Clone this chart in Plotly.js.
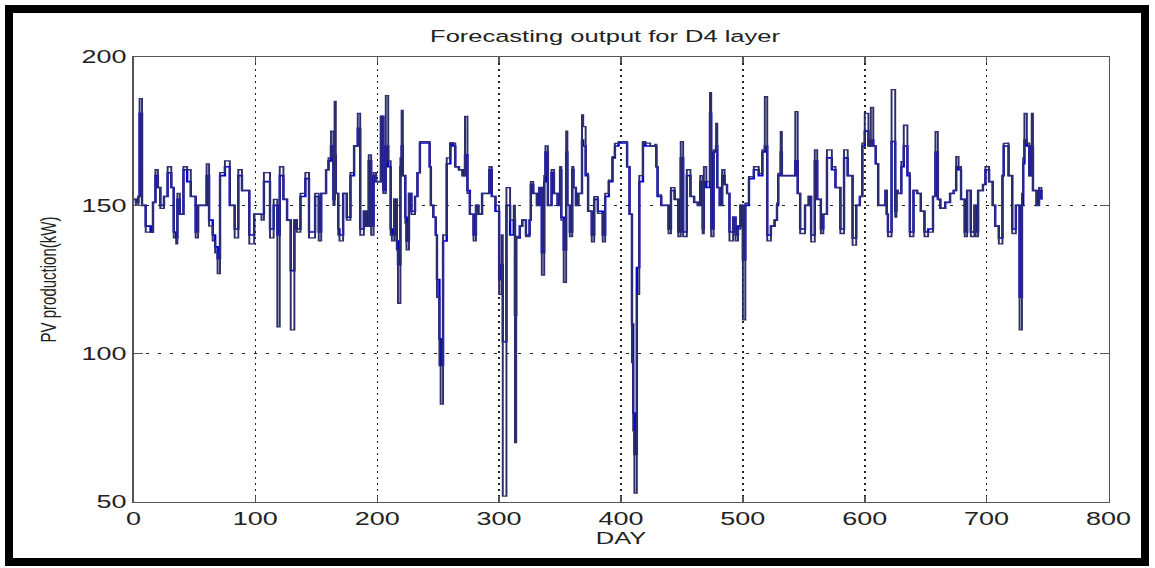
<!DOCTYPE html>
<html><head><meta charset="utf-8">
<script src="https://cdn.plot.ly/plotly-3.0.1.min.js"></script>
<style>
html,body{margin:0;padding:0;background:#fff;overflow:hidden;}
#chart{position:absolute;left:0;top:0;width:770px;height:568px;transform:scale(1.5,1);transform-origin:0 0;}
#frame{position:absolute;left:5px;top:5px;width:1128px;height:545px;border:8px solid #000;pointer-events:none;}
</style></head>
<body>
<div id="chart"></div>
<div id="frame"></div>
<script>
const days = [
0,2,4,5,7,10,14,16,18,20,
22,25,28,31,33,35,36,38,41,44,
47,51,53,57,60,62,65,67,69,71,
75,79,83,86,89,95,99,105,107,112,
115,118,120,123,126,129,132,134,137,141,
144,149,152,154,158,160,162,164,165,166,
168,169,172,175,178,181,184,186,189,191,
193,195,197,199,203,205,207,209,211,212,
214,216,217,219,220,221,223,224,226,228,
231,233,235,241,243,244,246,248,249,251,
252,254,257,260,262,264,267,270,272,274,
276,279,281,283,286,289,292,294,297,300,
302,303,306,309,312,313,314,317,319,322,
325,326,328,331,333,335,337,338,340,343,
345,348,350,351,353,355,356,358,360,361,
363,365,368,369,371,373,376,378,381,385,
387,390,393,395,398,403,405,407,409,410,
411,413,415,418,420,424,428,429,430,433,
439,441,444,447,449,451,454,457,460,463,
465,467,468,470,473,474,476,478,479,481,
483,485,487,489,492,494,496,498,500,502,
505,509,513,516,518,520,523,526,528,529,
531,532,541,543,545,547,551,554,556,559,
561,564,566,569,573,576,580,583,586,590,
593,596,598,600,603,605,607,609,611,613,
617,618,619,622,625,626,627,630,632,635,
637,640,643,646,649,652,656,658,660,662,
666,670,673,675,677,679,682,684,687,690,
691,693,697,699,702,705,707,710,713,714,
717,718,721,724,727,729,730,731,733,735,
737,738,741,743,745];

const actual = [
152,150,153,186,150,141,141,151,162,156,
149,153,163,156,139,137,154,147,163,162,
153,139,150,150,164,143,138,134,127,161,
165,150,139,162,155,137,147,145,161,139,
152,109,163,152,145,108,145,141,154,161,
139,154,138,154,162,166,175,150,185,154,
140,138,154,145,161,170,181,140,148,143,
167,140,161,158,180,154,187,165,140,138,
152,135,117,166,182,160,144,135,154,147,
153,161,171.5,171.5,163,150,146,140,119,96,
83,140,166,171,171,163,162,160,180,154,
147,138,150,147,154,154,163,153,150,120,
140,52,156,145,150,70,139.5,143,145,139.5,
145,158,154,150,156,126.5,160,170,150,162,
154,150,163,145,124,175,150,139.5,163,156,
150,154,180.5,176.5,160.8,148,137.7,152.9,147.3,137.7,
154,158.5,166.4,170.9,171.5,171.5,163,147,97,74,
53,120,160,171.5,171,170,170.5,163,153.5,150,
140.5,156,152,139.5,171.5,139.5,162,153,151,150,
160,140.5,163,158,188,139.5,168.7,177.6,156,150,
162,157,154,138,146,138,142,150,111.4,150.7,
159.7,163,160.8,168.7,186.6,138,143,145,150.7,160.8,
174.8,160,160,181.6,154,140.5,150,153,137.7,168.7,
152,140.5,147,168.7,163,156,140.5,168.7,160,136.6,
150,153,171,181,170,183,170,164,150,150,
155,147,139.5,189,146,155,154,164.7,177,161,
139.5,155,154,148,139.5,141,153,174.8,152,149,
151,154,155,166.4,163,152,139.5,155,139.5,150,
139.5,155,157,163,158,150,143,137,160,170.9,
171,160,140.5,150,108,154,166,181,171,160,
181,155,150,156,152];

const forecast = [
152,151,153,181,150,143,141,151,160,156,
150,153,161,156,141,139,152,147,162,158,
153,141,150,150,160,145,140,136,132,160,
163,150,142,160,155,140,147,147,158,142,
150,140,160,152,145,128,145,142,153,159,
141,153,141,154,162,165,170,152,167,154,
142,140,154,146,160,170,176,142,148,143,
165,143,160,158,180,155,170,163,142,140,
152,138,130,163,170,160,146,138,154,148,
153,161,171,171,163,150,146,140,125,105,
96,138,164,171,170,163,162,160,167,155,
147,140,150,147,154,154,162,153,148,125,
130,104,150,140,145,113,139,143,145,140,
145,157,154,150,156,134,158,168,150,161,
154,150,162,146,135,168,150,141,162,156,
150,154,172,170,160,148,140,152,148,140,
153,158,166,170,171,171,163,147,110,80,
66,129,158,171,170,170,170,163,153,150,
142,155,152,141,166,141,160,153,151,150,
158,142,158,156,181,142,168,170,156,150,
160,157,154,141,146,140,143,150,131.6,150,
159,162,160,168,170,140,143,145,150,160,
168,160,160,165,154,142,150,153,140,165,
152,142,147,166,162,156,142,166,160,139,
150,153,170,175,170,172,170,164,150,150,
155,147,141,171.5,148,155,154,163,170,160,
141,155,154,148,141,142,153,168,152,149,
151,154,155,163,162,152,141,155,141,150,
141,155,157,162,158,150,143,139,160,170,
170,160,142,150,119,150,164,172,170,160,
170,155,150,155,152];

const xTicks = [0,100,200,300,400,500,600,700,800];
const yTicks = [50,100,150,200];

const S = 1.5;
const FONT = '"Liberation Sans", Arial, sans-serif';

const traces = [
  {x: days, y: forecast, type: 'scatter', mode: 'lines', name: 'forecast',
   line: {color: '#0000d2', width: 1.6, shape: 'hv'}, hoverinfo: 'skip'},
  {x: days, y: actual, type: 'scatter', mode: 'lines', name: 'actual',
   line: {color: '#2e2e6c', width: 1.3, shape: 'hv'}, hoverinfo: 'skip'}
];

const layout = {
  width: 1155 / S, height: 568,
  margin: {l: 133 / S, r: 47 / S, t: 57, b: 66},
  paper_bgcolor: '#ffffff', plot_bgcolor: '#ffffff',
  showlegend: false,
  font: {family: FONT, color: '#222'},
  title: {text: 'Forecasting output for D4 layer', x: 605 / 1155, xanchor: 'center',
          y: 1 - 36 / 568, yanchor: 'middle', yref: 'container',
          font: {family: FONT, size: 17, color: '#222'}},
  xaxis: {range: [0, 800], tickvals: xTicks, ticktext: xTicks.map(String),
          showgrid: true, gridcolor: '#222', gridwidth: 1, griddash: '2px,4px',
          zeroline: false, showline: true, linecolor: '#555', linewidth: 1, mirror: 'ticks',
          ticks: 'inside', ticklen: 6, tickcolor: '#555',
          tickfont: {family: FONT, size: 18, color: '#222'},
          title: {text: 'DAY', standoff: 4, font: {family: FONT, size: 17, color: '#222'}}},
  yaxis: {range: [50, 200], tickvals: yTicks, ticktext: yTicks.map(String),
          showgrid: true, gridcolor: '#222', gridwidth: 1, griddash: '2px,6px',
          zeroline: false, showline: true, linecolor: '#555', linewidth: 1, mirror: 'ticks',
          ticks: 'inside', ticklen: 6, tickcolor: '#555',
          tickfont: {family: FONT, size: 18, color: '#222'},
          title: {text: 'PV production(kW)', standoff: 12, font: {family: FONT, size: 15, color: '#222'}}}
};

Plotly.newPlot('chart', traces, layout, {displayModeBar: false, staticPlot: true});
</script>
</body></html>
